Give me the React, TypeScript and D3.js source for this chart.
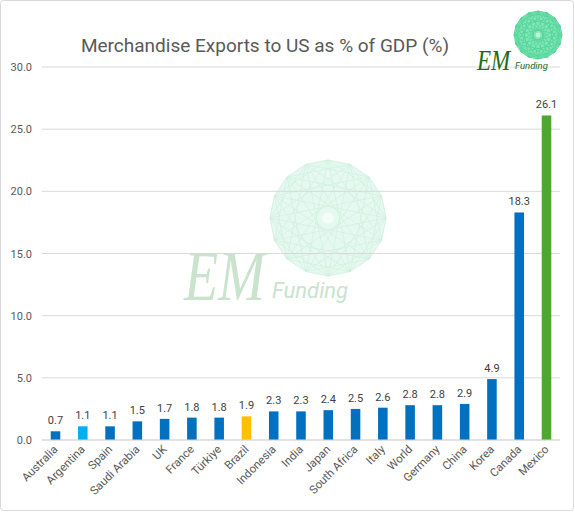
import React from "react";
import * as d3 from "d3";

const categories = ["Australia","Argentina","Spain","Saudi Arabia","UK","France","Türkiye","Brazil","Indonesia","India","Japan","South Africa","Italy","World","Germany","China","Korea","Canada","Mexico"];
const values = [0.7,1.1,1.1,1.5,1.7,1.8,1.8,1.9,2.3,2.3,2.4,2.5,2.6,2.8,2.8,2.9,4.9,18.3,26.1];
const yTicks = [0,5,10,15,20,25,30];
const title = "Merchandise Exports to US as % of GDP (%)";

const W = 575, H = 512;
const m = { left: 42, right: 15, top: 67, bottom: 72 };

function colorFor(c: string) {
  if (c === "Argentina") return "#00B0F0";
  if (c === "Brazil") return "#FFC000";
  if (c === "Mexico") return "#4EA72E";
  return "#0070C0";
}

function Mandala({ cx, cy, r, fill, stroke }: { cx: number; cy: number; r: number; fill: string; stroke: string }) {
  const n = 16;
  const pts = d3.range(n).map(i => {
    const a = (i / n) * Math.PI * 2 - Math.PI / 2;
    return [cx + r * Math.cos(a), cy + r * Math.sin(a)];
  });
  const poly = pts.map(p => p.join(",")).join(" ");
  const lines: JSX.Element[] = [];
  pts.forEach((p, i) => {
    [3, 5, 7].forEach(k => {
      const q = pts[(i + k) % n];
      lines.push(<line key={`${i}-${k}`} x1={p[0]} y1={p[1]} x2={q[0]} y2={q[1]} stroke={stroke} strokeWidth={0.6} />);
    });
  });
  return (
    <g>
      <polygon points={poly} fill={fill} stroke={stroke} strokeWidth={0.8} />
      {lines}
      <circle cx={cx} cy={cy} r={r * 0.1} fill="#ffffff" opacity={0.5} />
    </g>
  );
}

export default function App() {
  const x = d3.scaleBand<string>().domain(categories).range([m.left, W - m.right]).paddingInner(0.65).paddingOuter(0.32);
  const y = d3.scaleLinear().domain([0, 30]).range([H - m.bottom, m.top]);
  const font = "Roboto, 'Noto Sans', sans-serif";
  return (
    <div style={{ position: "fixed", left: 0, top: 0, width: W, height: H }}>
      <svg width={W} height={H} style={{ display: "block", background: "#fff" }}>
        <rect x={0.5} y={0.5} width={W - 2} height={H - 2} rx={3} fill="#fff" stroke="#d9d9d9" />
        {/* watermark */}
        <Mandala cx={328} cy={218} r={58} fill="#e6f9f0" stroke="#cdeedd" />
        <text transform="translate(184,300) scale(1,1.3)" fontFamily="'Liberation Serif', serif" fontStyle="italic" fontSize={56} fill="#c9e3cc">EM</text>
        <text x={272} y={298} fontFamily={font} fontStyle="italic" fontSize={22} fill="#c9e3cc">Funding</text>
        {/* gridlines */}
        {yTicks.map(t => (
          <g key={t}>
            <line x1={m.left} x2={W - m.right} y1={y(t)} y2={y(t)} stroke="#d9d9d9" strokeWidth={1} />
            <text x={32} y={y(t) + 4} textAnchor="end" fontFamily={font} fontSize={11} fill="#595959">{t.toFixed(1)}</text>
          </g>
        ))}
        {/* bars */}
        {categories.map((c, i) => (
          <g key={c}>
            <rect x={x(c)} y={y(values[i])} width={x.bandwidth()} height={y(0) - y(values[i])} fill={colorFor(c)} />
            <text x={(x(c) as number) + x.bandwidth() / 2} y={y(values[i]) - 7} textAnchor="middle" fontFamily={font} fontSize={11} fill="#404040">{values[i].toFixed(1)}</text>
            <text transform={`translate(${(x(c) as number) + x.bandwidth() / 2 + 3},${y(0) + 10}) rotate(-45)`} textAnchor="end" fontFamily={font} fontSize={11.5} fill="#595959">{c}</text>
          </g>
        ))}
        <line x1={m.left} x2={W - m.right} y1={y(0)} y2={y(0)} stroke="#d9d9d9" strokeWidth={1} />
        {/* title */}
        <text x={265} y={52} textAnchor="middle" fontFamily={font} fontSize={19} fill="#595959">{title}</text>
        {/* top-right logo */}
        <Mandala cx={538} cy={35} r={24} fill="#7fe6b5" stroke="#4fd195" />
        <text transform="translate(477,70) scale(1,1.3)" fontFamily="'Liberation Serif', serif" fontStyle="italic" fontSize={23} fill="#1a6e1a">EM</text>
        <text x={515} y={69} fontFamily={font} fontStyle="italic" fontSize={9.5} fill="#1a6e1a">Funding</text>
      </svg>
    </div>
  );
}
